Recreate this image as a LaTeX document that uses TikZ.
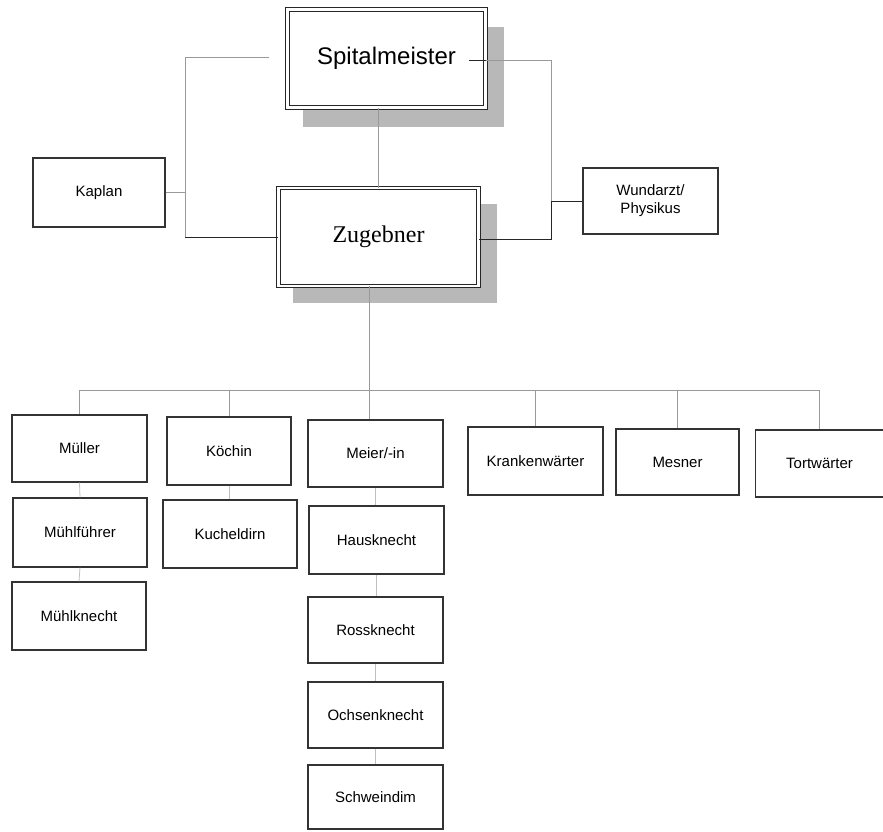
\documentclass[tikz,border=0pt]{standalone}
\usepackage{fontspec}
\setmainfont{Liberation Sans}
\newfontfamily\serifz{Liberation Serif}
\usetikzlibrary{calc}
\tikzset{
  box/.style={draw=black!80, line width=1.1pt, fill=white, inner sep=0pt,
    font=\fontsize{15}{18}\selectfont, align=center},
  bigbox/.style={draw=black!85, double=white, double distance=2.6pt, line width=0.9pt,
    fill=white, inner sep=0pt, minimum width=198pt, minimum height=98pt},
  conn/.style={draw=black!40, line width=0.8pt},
  dark/.style={draw=black!85, line width=1pt},
  faint/.style={draw=black!25, line width=0.8pt},
  shade/.style={fill=black!28},
}
\begin{document}
\begin{tikzpicture}[x=1pt,y=-1pt]
\useasboundingbox (0,0) rectangle (883,831);
% shadows
\fill[shade] (303,27) rectangle (504,127);
\fill[shade] (293,204) rectangle (497,303);
% top boxes
\node[bigbox, font=\fontsize{24}{28}\selectfont] (spital) at (386.5,58.5) {Spitalmeister};
\node[bigbox, minimum width=200pt, font=\serifz\fontsize{24}{28}\selectfont] (zug) at (378.5,237) {Zugebner};
\node[box, minimum width=132pt, minimum height=69pt] (kaplan) at (99,192.5) {Kaplan};
\node[box, minimum width=135pt, minimum height=66pt] (wund) at (650.5,201) {Wundarzt/\\Physikus};
% lower boxes
\node[box, minimum width=135pt, minimum height=67pt] (mueller) at (79.5,448.5) {Müller};
\node[box, minimum width=134pt, minimum height=69pt] (muehlf) at (80,532.5) {Mühlführer};
\node[box, minimum width=134pt, minimum height=68pt] (muehlk) at (79,616) {Mühlknecht};
\node[box, minimum width=124pt, minimum height=68pt] (koechin) at (229,451) {Köchin};
\node[box, minimum width=134pt, minimum height=68pt] (kuchel) at (230,534) {Kucheldirn};
\node[box, minimum width=135pt, minimum height=67pt] (meier) at (375.5,453.5) {Meier/-in};
\node[box, minimum width=135pt, minimum height=68pt] (haus) at (376.5,540) {Hausknecht};
\node[box, minimum width=135pt, minimum height=66pt] (ross) at (375.5,630) {Rossknecht};
\node[box, minimum width=135pt, minimum height=66pt] (ochsen) at (375.5,715) {Ochsenknecht};
\node[box, minimum width=135pt, minimum height=64pt] (schwein) at (375.5,797) {Schweindim};
\node[box, minimum width=135pt, minimum height=68pt] (krank) at (535.5,461) {Krankenwärter};
\node[box, minimum width=123pt, minimum height=66pt] (mesner) at (677.5,462) {Mesner};
\node[box, minimum width=128pt, minimum height=67pt] (tort) at (819.5,463.5) {Tortwärter};
% left loop
\coordinate (L1) at (269,57);
\coordinate (L2) at (185,237);
\draw[conn] (L1) -| (L2);
\draw[dark] (L2) -- (zug.west);
\draw[conn] (kaplan.east) -- (kaplan.east -| L2);
% right loop
\coordinate (R) at (551,239);
\draw[dark] ($(spital.east)+(-17,1.5)$) -- ($(spital.east)+(0,1.5)$);
\draw[conn] ($(spital.east)+(0,2)$) -| (R |- wund.west);
\draw[dark] (wund.west) -| (R) -- (R -| zug.east);
% spital - zugebner
\draw[conn] (zug.north) -- (zug.north |- spital.south);
% bus
\coordinate (bus) at (369,390);
\draw[conn] (bus |- zug.south) -- (bus |- meier.north);
\draw[conn] (mueller.north |- bus) -- (tort.north |- bus);
\foreach \n in {mueller,koechin,krank,mesner,tort}
  \draw[conn] (\n.north |- bus) -- (\n.north);
% stacked links
\draw[faint] (mueller.south) -- (muehlf.north);
\draw[faint] (muehlf.south) -- (muehlk.north);
\draw[faint] (koechin.south) -- (koechin.south |- kuchel.north);
\draw[faint] (meier.south) -- (meier.south |- haus.north);
\draw[faint] (haus.south) -- (haus.south |- ross.north);
\draw[faint] (ross.south) -- (ochsen.north);
\draw[faint] (ochsen.south) -- (schwein.north);
\end{tikzpicture}
\end{document}
